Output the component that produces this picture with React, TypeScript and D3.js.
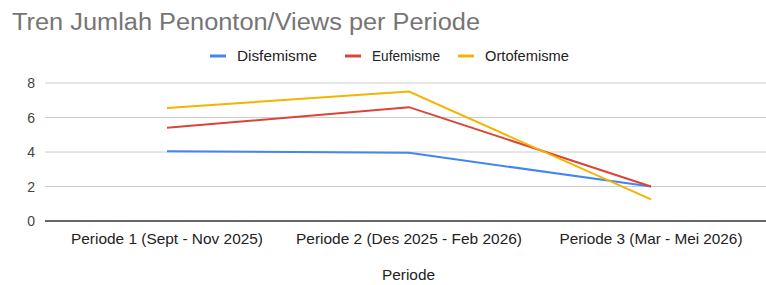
import React from "react";
import * as d3 from "d3";

const categories = [
  "Periode 1 (Sept - Nov 2025)",
  "Periode 2 (Des 2025 - Feb 2026)",
  "Periode 3 (Mar - Mei 2026)",
];
const seriesNames = ["Disfemisme", "Eufemisme", "Ortofemisme"];
const disfemisme = [4.05, 3.95, 2.0];
const eufemisme = [5.4, 6.6, 2.0];
const ortofemisme = [6.55, 7.5, 1.25];
const yTicks = [0, 2, 4, 6, 8];
const colors = ["#4285F4", "#DB4437", "#F4B400"];

const W = 766;
const H = 285;

export default function App() {
  const series = [disfemisme, eufemisme, ortofemisme];
  const x = d3.scalePoint<string>().domain(categories).range([167, 651]);
  const y = d3.scaleLinear().domain([0, 8]).range([221, 83]);
  const line = d3
    .line<number>()
    .x((_, i) => x(categories[i]) as number)
    .y((d) => y(d));
  const font = "'Liberation Sans', Arial, sans-serif";
  const legendX = [210, 345, 458];
  const legendW = [80, 68, 84];
  const labelW = [192, 226, 183];
  return (
    <svg
      width={W}
      height={H}
      style={{ position: "absolute", left: 0, top: 0, background: "#fff" }}
      fontFamily={font}
    >
      <text
        x={12}
        y={30}
        fontSize={23}
        fill="#757575"
        textLength={468}
        lengthAdjust="spacingAndGlyphs"
      >
        Tren Jumlah Penonton/Views per Periode
      </text>
      {seriesNames.map((n, i) => (
        <g key={n}>
          <line
            x1={legendX[i]}
            x2={legendX[i] + 16}
            y1={56}
            y2={56}
            stroke={colors[i]}
            strokeWidth={3}
          />
          <text
            x={legendX[i] + 27}
            y={61}
            fontSize={14}
            fill="#222"
            textLength={legendW[i]}
            lengthAdjust="spacingAndGlyphs"
          >
            {n}
          </text>
        </g>
      ))}
      {yTicks.map((t) => (
        <g key={t}>
          <line
            x1={45}
            x2={W}
            y1={y(t)}
            y2={y(t)}
            stroke={t === 0 ? "#333" : "#ccc"}
            strokeWidth={t === 0 ? 1.5 : 1}
          />
          <text
            x={35}
            y={y(t) + 5}
            fontSize={14}
            textAnchor="end"
            fill="#444"
          >
            {t}
          </text>
        </g>
      ))}
      {categories.map((c, i) => (
        <text
          key={c}
          x={(x(c) as number) - labelW[i] / 2}
          y={244}
          fontSize={15}
          fill="#222"
          textLength={labelW[i]}
          lengthAdjust="spacingAndGlyphs"
        >
          {c}
        </text>
      ))}
      <text
        x={382}
        y={280}
        fontSize={14}
        fill="#222"
        textLength={53}
        lengthAdjust="spacingAndGlyphs"
      >
        Periode
      </text>
      {series.map((s, i) => (
        <path
          key={i}
          d={line(s) || ""}
          fill="none"
          stroke={colors[i]}
          strokeWidth={2}
        />
      ))}
    </svg>
  );
}
